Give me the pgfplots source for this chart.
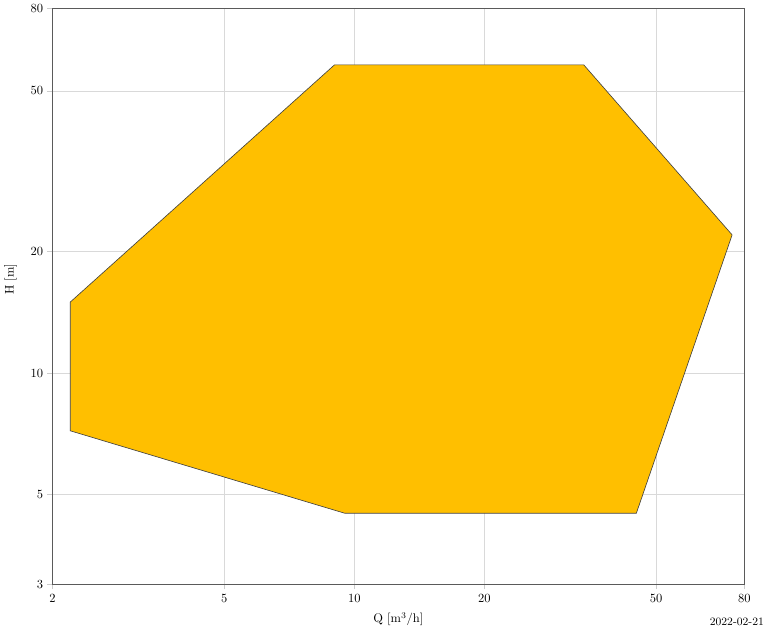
\documentclass[border=0pt]{standalone}
\usepackage{pgfplots}
\pgfplotsset{compat=1.18}
\definecolor{amber}{RGB}{255,191,0}
\definecolor{axgray}{RGB}{90,90,90}

\begin{document}
\begin{tikzpicture}
\begin{axis}[
    scale only axis,
    width=553.6pt, height=460.8pt,
    xmode=log, ymode=log,
    xmin=2, xmax=80, ymin=3, ymax=80,
    xtick={2,5,10,20,50,80}, xticklabels={2,5,10,20,50,80},
    ytick={3,5,10,20,50,80}, yticklabels={3,5,10,20,50,80},
    minor tick num=0,
    grid=major,
    major grid style={gray!30, line width=0.6pt},
    tick align=outside,
    xtick pos=bottom, ytick pos=left,
    tick style={gray!40, line width=0.6pt},
    major tick length=4pt,
    axis line style={axgray, line width=0.8pt},
    xlabel={Q [m$^3$/h]},
    ylabel={H [m]},
    xlabel style={at={(axis description cs:0.5,-0.0608)}, anchor=center},
    ylabel style={at={(axis description cs:-0.0607,0.53)}, anchor=center},
    clip=false,
]
\addplot[fill=amber, draw=black!75, line width=0.5pt] coordinates {
    (2.2,15) (9,58) (34,58) (75,22) (45,4.5) (9.5,4.5) (2.2,7.2)
} -- cycle;
\node[anchor=base east, font=\small] at ([xshift=19.2pt, yshift=-32.8pt]rel axis cs:1,0) {2022-02-21};
\end{axis}
\end{tikzpicture}
\end{document}
